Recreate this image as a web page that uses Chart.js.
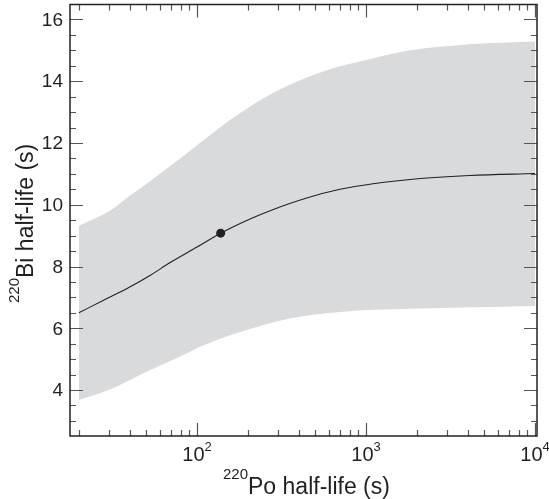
<!DOCTYPE html>
<html>
<head>
<meta charset="utf-8">
<script src="https://cdn.jsdelivr.net/npm/chart.js@4.4.1/dist/chart.umd.min.js"></script>
<style>
  html, body { margin: 0; padding: 0; background: #fff; }
  #wrap { width: 549px; height: 499px; }
</style>
</head>
<body>
<div id="wrap"><canvas id="chart" width="549" height="499"></canvas></div>
<script>
// --- data ---
const upperX = [20, 30, 40, 53, 91, 104, 180, 310, 612, 1100, 1820, 4120, 10000];
const upperY = [9.32, 9.78, 10.29, 10.77, 11.75, 12.0, 12.97, 13.74, 14.39, 14.74, 15.0, 15.2, 15.29];

const lowerX = [20, 30, 53, 91, 104, 180, 355, 702, 1820, 10000];
const lowerY = [3.68, 4.0, 4.65, 5.24, 5.4, 5.88, 6.32, 6.53, 6.63, 6.72];

const centerX = [20, 28, 40, 53, 69, 100, 138, 206, 283, 446, 702, 1100, 2090, 4120, 10000];
const centerY = [6.50, 6.91, 7.34, 7.72, 8.12, 8.63, 9.08, 9.54, 9.85, 10.22, 10.50, 10.68, 10.85, 10.95, 11.01];

const pointX = [138];
const pointY = [9.08];

// tick positions
const xMajor = [100, 1000, 10000];
const xMinor = [20, 30, 40, 50, 60, 70, 80, 90, 200, 300, 400, 500, 600, 700, 800, 900,
                2000, 3000, 4000, 5000, 6000, 7000, 8000, 9000];
const xLabelExp = ['2', '3', '4'];
const yMajor = [4, 6, 8, 10, 12, 14, 16];
const yMinor = [3, 3.5, 4.5, 5, 5.5, 6.5, 7, 7.5, 8.5, 9, 9.5, 10.5, 11, 11.5,
                12.5, 13, 13.5, 14.5, 15, 15.5, 16.5];

const pts = (xs, ys) => xs.map((x, i) => ({x: x, y: ys[i]}));

const FONT = "'Liberation Sans', Arial, Helvetica, sans-serif";

// frame, inward ticks and all the text
const framePlugin = {
    id: 'frame',
    afterDraw(chart) {
        const {ctx, chartArea: a, scales} = chart;
        const xs = scales.x, ys = scales.y;
        ctx.save();

        // ticks
        ctx.strokeStyle = '#555';
        ctx.lineWidth = 1.2;
        const vTick = (v, len) => {
            const px = Math.round(xs.getPixelForValue(v)) + 0.5;
            ctx.beginPath();
            ctx.moveTo(px, a.bottom); ctx.lineTo(px, a.bottom - len);
            ctx.moveTo(px, a.top); ctx.lineTo(px, a.top + len);
            ctx.stroke();
        };
        const hTick = (v, len) => {
            const py = Math.round(ys.getPixelForValue(v)) + 0.5;
            ctx.beginPath();
            ctx.moveTo(a.left, py); ctx.lineTo(a.left + len, py);
            ctx.moveTo(a.right, py); ctx.lineTo(a.right - len, py);
            ctx.stroke();
        };
        xMinor.forEach(v => vTick(v, 6));
        xMajor.forEach(v => vTick(v, 13));
        yMinor.forEach(v => hTick(v, 6));
        yMajor.forEach(v => hTick(v, 13));

        // box
        ctx.strokeStyle = '#222';
        ctx.lineWidth = 1.5;
        ctx.strokeRect(a.left, a.top, a.right - a.left, a.bottom - a.top);

        ctx.fillStyle = '#231f20';

        // y tick labels
        ctx.font = '19px ' + FONT;
        ctx.textAlign = 'right';
        ctx.textBaseline = 'middle';
        yMajor.forEach(v => ctx.fillText(String(v), a.left - 7, ys.getPixelForValue(v) + 1));

        // x tick labels: 10 with superscript
        ctx.textBaseline = 'alphabetic';
        xMajor.forEach((v, i) => {
            const px = xs.getPixelForValue(v);
            ctx.font = '20px ' + FONT;
            const w1 = ctx.measureText('10').width;
            ctx.font = '13px ' + FONT;
            const w2 = ctx.measureText(xLabelExp[i]).width;
            const x0 = px - (w1 + w2) / 2;
            ctx.textAlign = 'left';
            ctx.font = '20px ' + FONT;
            ctx.fillText('10', x0, 461);
            ctx.font = '13px ' + FONT;
            ctx.fillText(xLabelExp[i], x0 + w1, 451);
        });

        // x axis title
        ctx.font = '15px ' + FONT;
        const wSup = ctx.measureText('220').width;
        const tx = 223;
        ctx.textAlign = 'left';
        ctx.fillText('220', tx, 479);
        ctx.font = '23px ' + FONT;
        ctx.fillText('Po half-life (s)', tx + wSup, 494);

        // y axis title (rotated)
        ctx.translate(33, 0);
        ctx.rotate(-Math.PI / 2);
        ctx.font = '15px ' + FONT;
        const ywSup = ctx.measureText('220').width;
        const ty = -303;
        ctx.fillText('220', ty, -14);
        ctx.font = '23px ' + FONT;
        ctx.fillText('Bi half-life (s)', ty + ywSup, 0);

        ctx.restore();
    }
};

new Chart(document.getElementById('chart'), {
    type: 'line',
    data: {
        datasets: [
            {
                label: 'upper',
                data: pts(upperX, upperY),
                borderWidth: 0,
                borderColor: 'rgba(0,0,0,0)',
                backgroundColor: '#d9dadc',
                pointRadius: 0,
                fill: 1,
                cubicInterpolationMode: 'monotone'
            },
            {
                label: 'lower',
                data: pts(lowerX, lowerY),
                borderWidth: 0,
                borderColor: 'rgba(0,0,0,0)',
                pointRadius: 0,
                fill: false,
                cubicInterpolationMode: 'monotone'
            },
            {
                label: 'center',
                data: pts(centerX, centerY),
                borderWidth: 1.1,
                borderColor: '#231f20',
                pointRadius: 0,
                fill: false,
                cubicInterpolationMode: 'monotone'
            },
            {
                label: 'point',
                data: pts(pointX, pointY),
                showLine: false,
                pointRadius: 4.5,
                pointBackgroundColor: '#231f20',
                pointBorderColor: '#231f20',
                pointBorderWidth: 0,
                fill: false
            }
        ]
    },
    options: {
        responsive: false,
        animation: false,
        events: [],
        layout: { padding: { left: 70, right: 12, top: 4, bottom: 63 } },
        plugins: {
            legend: { display: false },
            tooltip: { enabled: false },
            filler: { drawTime: 'beforeDatasetsDraw' }
        },
        scales: {
            x: { type: 'logarithmic', min: 17.72, max: 10276, display: false },
            y: { type: 'linear', min: 2.512, max: 16.485, display: false }
        }
    },
    plugins: [framePlugin]
});
</script>
</body>
</html>
